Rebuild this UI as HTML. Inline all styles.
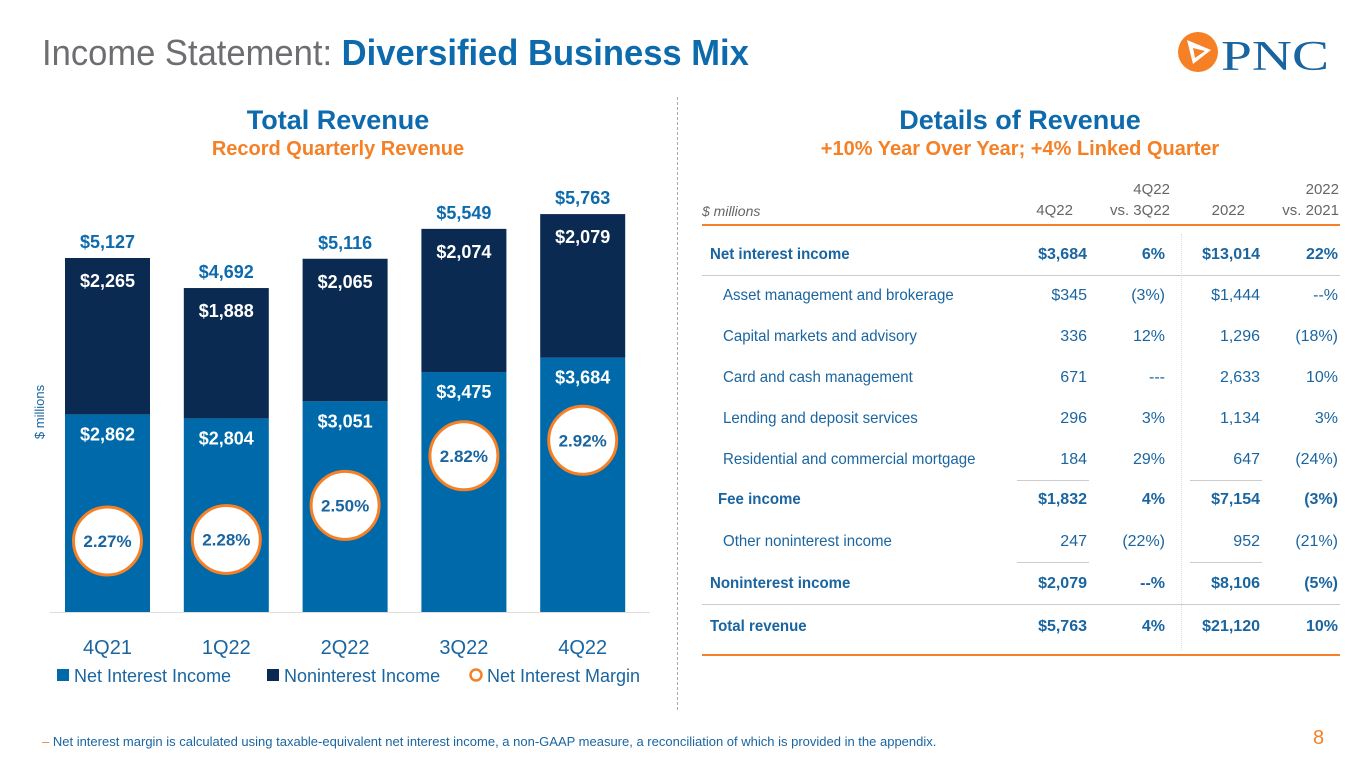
<!DOCTYPE html>
<html><head><meta charset="utf-8"><style>
body{margin:0;width:1365px;height:768px;overflow:hidden;background:#fff;font-family:"Liberation Sans",sans-serif;position:relative}
.a{position:absolute;white-space:nowrap}
.c{text-align:center;transform:translateX(-50%)}
.r{text-align:right}
.t{color:#1a65a0;font-size:16px}
</style></head><body>
<div class="a" style="left:42px;top:32px;font-size:36px;color:#6d6e71;transform:scaleX(0.96);transform-origin:0 0">Income Statement: <b style="color:#0d6aad">Diversified Business Mix</b></div>
<svg class="a" style="left:1175px;top:30px" width="160" height="50"><circle cx="23" cy="22" r="20" fill="#f58025"/><path d="M12 10 L36 20 L18 34 Z" fill="#fff"/><path d="M18 18 L30 21 L20 28Z" fill="#f58025"/><text x="46" y="40" font-family="Liberation Serif,serif" font-size="42" fill="#1a65a0" textLength="108" lengthAdjust="spacingAndGlyphs">PNC</text></svg>
<div class="a c b" style="left:338px;top:105px;font-size:27px;font-weight:bold;color:#0d6aad">Total Revenue</div>
<div class="a c b" style="left:338px;top:138px;font-size:20px;font-weight:bold;color:#f58025">Record Quarterly Revenue</div>
<div class="a c b" style="left:1020px;top:105px;font-size:27px;font-weight:bold;color:#0d6aad">Details of Revenue</div>
<div class="a c b" style="left:1020px;top:138px;font-size:20px;font-weight:bold;color:#f58025">+10% Year Over Year; +4% Linked Quarter</div>
<div class="a" style="left:677px;top:97px;height:613px;border-left:1px dashed #aaa"></div>
<svg class="a" id="chart" style="left:0;top:0" width="677" height="710"></svg>
<div id="tbl"></div>
<div class="a" style="left:42px;top:734px;font-size:13px;color:#1a65a0"><span style="color:#f58025">–</span> Net interest margin is calculated using taxable-equivalent net interest income, a non-GAAP measure, a reconciliation of which is provided in the appendix.</div>
<div class="a" style="left:1313px;top:727px;font-size:20px;color:#f58025">8</div>
<script>
const categories=["4Q21","1Q22","2Q22","3Q22","4Q22"];
const nii=[2862,2804,3051,3475,3684];
const nonint=[2265,1888,2065,2074,2079];
const nim=[2.27,2.28,2.50,2.82,2.92];
const svg=document.getElementById('chart');const NS='http://www.w3.org/2000/svg';
const base=612,k=354/5127;
const y=v=>base-v*k;const xc=i=>107.5+i*118.8;const ym=m=>541-(m-2.27)*155;
function el(t,a,txt){const e=document.createElementNS(NS,t);for(const q in a)e.setAttribute(q,a[q]);if(txt!=null)e.textContent=txt;svg.appendChild(e);return e;}
const fmt=v=>'$'+v.toLocaleString('en-US');
const F='Liberation Sans,sans-serif';
let ax=el('line',{x1:50,x2:650,y1:base+.5,y2:base+.5,stroke:'#ddd'});

let yt=el('text',{x:0,y:0,transform:'translate(44,412) rotate(-90)','text-anchor':'middle','font-size':13,fill:'#1a65a0','font-family':F},'$ millions');

categories.forEach((c,i)=>{
 const x=xc(i);const tot=nii[i]+nonint[i];
 let b1=el('rect',{x:x-42.5,y:y(nii[i]),width:85,height:nii[i]*k,fill:'#0069aa'});
 
 let b2=el('rect',{x:x-42.5,y:y(tot),width:85,height:nonint[i]*k,fill:'#0b2a52'});
 
 let l1=el('text',{x:x,y:y(nii[i])+26,'text-anchor':'middle','font-size':18,'font-weight':'bold',fill:'#fff','font-family':F},fmt(nii[i]));
 
 let l2=el('text',{x:x,y:y(tot)+29,'text-anchor':'middle','font-size':18,'font-weight':'bold',fill:'#fff','font-family':F},fmt(nonint[i]));
 
 let l3=el('text',{x:x,y:y(tot)-10,'text-anchor':'middle','font-size':18,'font-weight':'bold',fill:'#0d6aad','font-family':F},fmt(tot));
 
 let ci=el('circle',{cx:x,cy:ym(nim[i]),r:34,fill:'#fff',stroke:'#f58025','stroke-width':3});
 
 let nt=el('text',{x:x,y:ym(nim[i])+6,'text-anchor':'middle','font-size':17,'font-weight':'bold',fill:'#1a65a0','font-family':F},nim[i].toFixed(2)+'%');
 
 let xl=el('text',{x:x,y:654,'text-anchor':'middle','font-size':20,fill:'#1a65a0','font-family':F},c);
 
});
const leg=[['Net Interest Income','#0069aa',57],['Noninterest Income','#0b2a52',267],['Net Interest Margin','#f58025',470]];
leg.forEach(([t,c,x],i)=>{
 let m=i<2?el('rect',{x:x,y:669,width:12,height:12,fill:c}):el('circle',{cx:x+6,cy:675,r:5.5,fill:'none',stroke:c,'stroke-width':2.5});
 
 let lt=el('text',{x:x+17,y:682,'font-size':18,fill:'#1a65a0','font-family':F},t);
 
});
const rows=[
 ["Net interest income","$3,684","6%","$13,014","22%",1,256,710],
 ["Asset management and brokerage","$345","(3%)","$1,444","--%",0,297,723],
 ["Capital markets and advisory","336","12%","1,296","(18%)",0,338,723],
 ["Card and cash management","671","---","2,633","10%",0,379,723],
 ["Lending and deposit services","296","3%","1,134","3%",0,420,723],
 ["Residential and commercial mortgage","184","29%","647","(24%)",0,461,723],
 ["Fee income","$1,832","4%","$7,154","(3%)",1,501,718],
 ["Other noninterest income","247","(22%)","952","(21%)",0,543,723],
 ["Noninterest income","$2,079","--%","$8,106","(5%)",1,585,710],
 ["Total revenue","$5,763","4%","$21,120","10%",1,628,710]];
let h='';
const rx=[1087,1165,1260,1338];
const hx=[1073,1170,1245,1339];
h+=`<div class="a" style="left:702px;top:203px;font-size:14px;font-style:italic;color:#666">$ millions</div>`;
[['4Q22'],['4Q22<br>vs. 3Q22'],['2022'],['2022<br>vs. 2021']].forEach((t,i)=>{h+=`<div class="a r" style="right:${1365-hx[i]}px;bottom:${768-221}px;font-size:15px;line-height:21px;color:#666">${t}</div>`});
h+=`<div class="a" style="left:702px;top:224px;width:638px;height:2px;background:#f58025"></div>`;
h+=`<div class="a" style="left:702px;top:654px;width:638px;height:2px;background:#f58025"></div>`;
h+=`<div class="a" style="left:702px;top:275px;width:638px;height:1px;background:#ccc"></div>`;
h+=`<div class="a" style="left:702px;top:604px;width:638px;height:1px;background:#ccc"></div>`;
[480,562].forEach(t=>{h+=`<div class="a" style="left:1017px;top:${t}px;width:72px;height:1px;background:#ccc"></div><div class="a" style="left:1190px;top:${t}px;width:72px;height:1px;background:#ccc"></div>`});
h+=`<div class="a" style="left:1181px;top:234px;height:416px;border-left:1px dotted #ddd"></div>`;
rows.forEach(r=>{const fw=r[5]?'bold':'normal';
 h+=`<div class="a t" style="left:${r[7]}px;top:${r[6]-10}px;font-weight:${fw};transform:scaleX(0.94);transform-origin:0 0">${r[0]}</div>`;
 for(let j=0;j<4;j++)h+=`<div class="a t r" style="right:${1365-rx[j]}px;top:${r[6]-10}px;font-weight:${fw}">${r[j+1]}</div>`;
});
document.getElementById('tbl').innerHTML=h;
</script>
</body></html>
